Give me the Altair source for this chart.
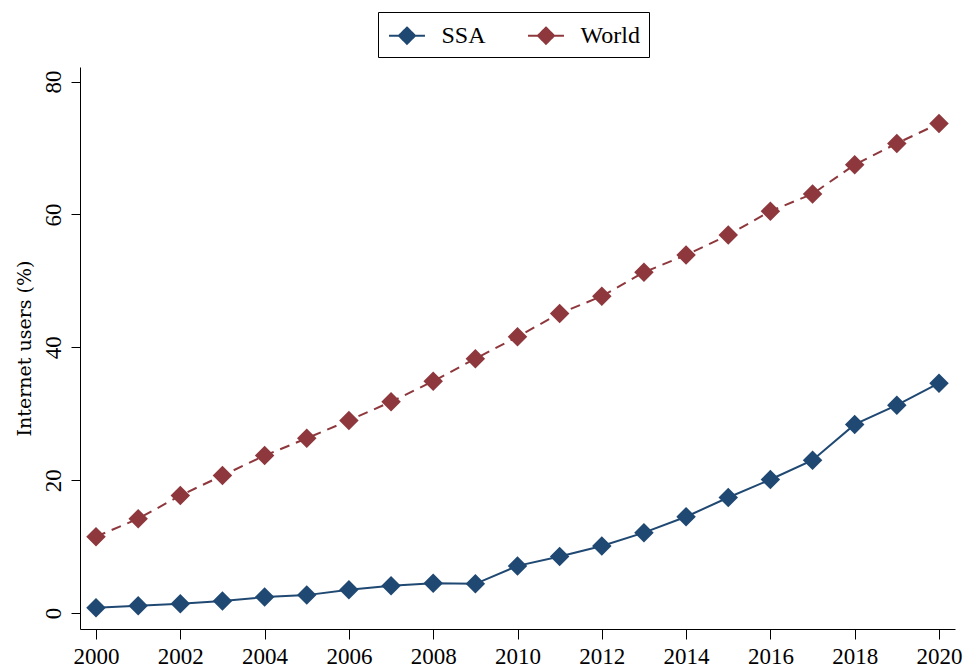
import altair as alt
import pandas as pd

years = list(range(2000, 2021))
ssa = [0.8, 1.1, 1.4, 1.8, 2.4, 2.7, 3.5, 4.1, 4.5, 4.4, 7.1, 8.5, 10.1, 12.1, 14.5, 17.4, 20.1, 23.0, 28.4, 31.3, 34.6]
world = [11.5, 14.2, 17.7, 20.7, 23.7, 26.3, 29.0, 31.8, 34.9, 38.3, 41.6, 45.1, 47.7, 51.3, 53.9, 56.9, 60.5, 63.1, 67.5, 70.7, 73.7]
series = ["SSA", "World"]
colors = ["#1F4872", "#8E383D"]
x_ticks = list(range(2000, 2021, 2))
y_ticks = [0, 20, 40, 60, 80]

df = pd.DataFrame({
    "year": years * 2,
    "value": ssa + world,
    "series": ["SSA"] * len(years) + ["World"] * len(years),
})

FONT = "Liberation Serif"

x = alt.X("year:Q", scale=alt.Scale(domain=[1999.62, 2020.38], nice=False, zero=False),
          axis=alt.Axis(values=x_ticks, format="d", title=None, grid=False,
                        labelFontSize=23, tickSize=10, labelPadding=6, domainColor="#000", tickColor="#000",
                        labelColor="#000", labelFont=FONT, labelFlush=False))
y = alt.Y("value:Q", scale=alt.Scale(domain=[-2.4, 82.2], nice=False, zero=False),
          axis=alt.Axis(values=y_ticks, title="Internet users (%)", grid=False,
                        labelFontSize=23, tickSize=9, labelAngle=-90, labelAlign="center", labelBaseline="bottom",
                        labelPadding=6, titleFontSize=19, titleFontWeight="normal", titleFont="DejaVu Serif",
                        titlePadding=8, titleColor="#000",
                        domainColor="#000", tickColor="#000", labelColor="#000", labelFont=FONT))

color = alt.Color("series:N", scale=alt.Scale(domain=series, range=colors),
                  legend=alt.Legend(title=None, orient="none", legendX=298, legendY=-55, direction="horizontal",
                                    strokeColor="#000", padding=9, labelFontSize=24, labelFont=FONT,
                                    labelColor="#000", symbolType="M-1.33,0L1.33,0M0,-0.6L0.6,0L0,0.6L-0.6,0Z",
                                    symbolSize=729, symbolStrokeWidth=2, labelOffset=20, columnPadding=38,
                                    symbolOffset=5.5, symbolOpacity=1, symbolDash=[1, 0]))

base = alt.Chart(df)
line_ssa = base.transform_filter(alt.datum.series == "SSA").mark_line(strokeWidth=2).encode(x=x, y=y, color=color)
line_world = base.transform_filter(alt.datum.series == "World").mark_line(
    strokeWidth=2, strokeDash=[10, 7]).encode(x=x, y=y, color=color)
points = base.mark_point(shape="diamond", filled=True, size=380, opacity=1).encode(x=x, y=y, color=color)

chart = alt.layer(line_ssa, line_world, points).properties(
    width=875, height=562,
    autosize=alt.AutoSizeParams(type="none"),
    padding={"left": 80, "top": 67, "right": 11, "bottom": 43},
    background="white",
).configure_view(stroke=None)

chart.save("out.html", embed_options={"renderer": "svg", "actions": False})
